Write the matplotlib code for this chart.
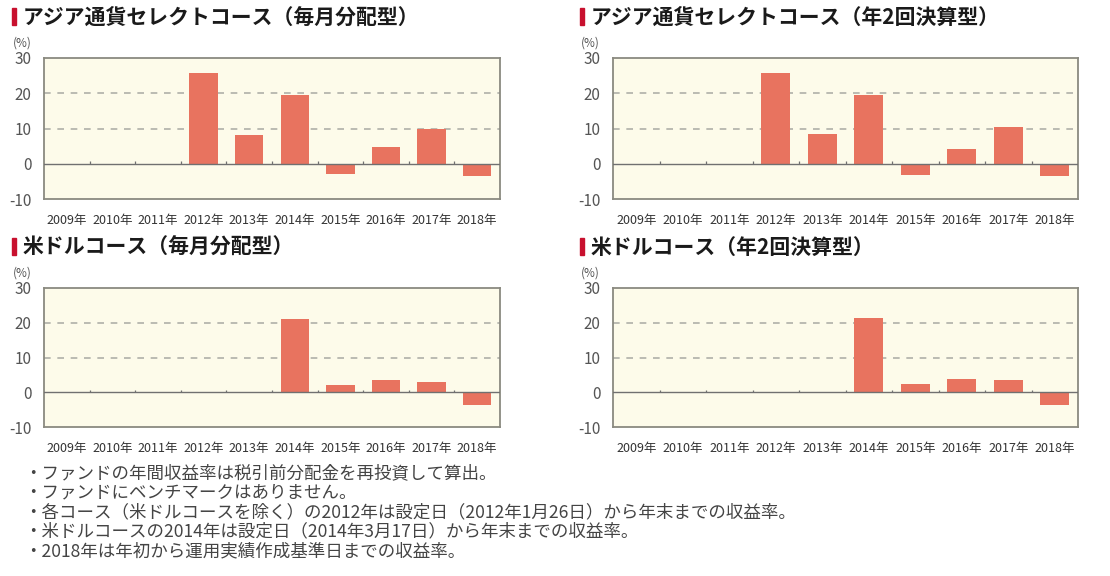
import numpy as np
import matplotlib
matplotlib.use('Agg')
import matplotlib.pyplot as plt
from matplotlib.patches import Rectangle

plt.rcParams['font.family'] = ['Noto Sans CJK JP', 'DejaVu Sans']

# data
years = ['2009年', '2010年', '2011年', '2012年', '2013年', '2014年', '2015年', '2016年', '2017年', '2018年']
asia_monthly = [np.nan, np.nan, np.nan, 25.8, 8.1, 19.6, -3.0, 4.7, 9.8, -3.6]
asia_semi = [np.nan, np.nan, np.nan, 25.8, 8.5, 19.6, -3.3, 4.3, 10.3, -3.6]
usd_monthly = [np.nan, np.nan, np.nan, np.nan, np.nan, 21.0, 2.0, 3.4, 3.0, -3.7]
usd_semi = [np.nan, np.nan, np.nan, np.nan, np.nan, 21.4, 2.5, 3.8, 3.4, -3.7]
titles = ['アジア通貨セレクトコース（毎月分配型）', 'アジア通貨セレクトコース（年2回決算型）',
          '米ドルコース（毎月分配型）', '米ドルコース（年2回決算型）']
yticks = [-10, 0, 10, 20, 30]
notes = [
    '・ファンドの年間収益率は税引前分配金を再投資して算出。',
    '・ファンドにベンチマークはありません。',
    '・各コース（米ドルコースを除く）の2012年は設定日（2012年1月26日）から年末までの収益率。',
    '・米ドルコースの2014年は設定日（2014年3月17日）から年末までの収益率。',
    '・2018年は年初から運用実績作成基準日までの収益率。',
]

W, H = 1110, 576
BAR = '#e8735f'
BG = '#fdfbea'
FRAME = '#8a8a80'

fig = plt.figure(figsize=(W / 100, H / 100), dpi=100)
fig.patch.set_facecolor('white')


def px_axes(left, top, right, bottom):
    return fig.add_axes([left / W, 1 - bottom / H, (right - left) / W, (bottom - top) / H])


# (left, top, right, bottom) in pixels, title anchor x/y
panels = [
    ((44, 58, 500, 199), 12, 17, asia_monthly),
    ((613, 58, 1078, 199), 580, 17, asia_semi),
    ((44, 288, 500, 427), 12, 247, usd_monthly),
    ((613, 288, 1078, 427), 580, 247, usd_semi),
]

x = np.arange(len(years))
for (box, tx, ty, vals), title in zip(panels, titles):
    ax = px_axes(*box)
    ax.set_facecolor(BG)
    ax.set_xlim(-0.5, len(years) - 0.5)
    ax.set_ylim(-10, 30)
    for v in (10, 20):
        ax.axhline(v, color='#b0b0a8', lw=1.2, ls=(0, (4, 4)), zorder=1)
    ax.axhline(0, color='#707070', lw=1.0, zorder=3)
    ax.bar(x, np.nan_to_num(vals), width=0.62, color=BAR, zorder=2)
    # small tick marks at category borders on the zero line
    ax.vlines(x[:-1] + 0.5, 0, 0.7, color='#707070', lw=0.9, zorder=3)
    for s in ax.spines.values():
        s.set_color(FRAME)
        s.set_linewidth(1.3)
    ax.set_yticks(yticks)
    ax.set_yticklabels([str(t) for t in yticks], fontsize=11, color='#555555')
    ax.set_xticks(x)
    ax.set_xticklabels(years, fontsize=9, color='#333333')
    ax.tick_params(length=0, axis='both')
    ax.tick_params(axis='x', pad=11)
    ax.tick_params(axis='y', pad=9)
    # title with red marker
    fig.patches.append(Rectangle((tx / W, 1 - (ty + 8) / H), 4 / W, 17 / H,
                                 transform=fig.transFigure, color='#c8102e'))
    fig.text((tx + 11) / W, 1 - ty / H, title, fontsize=15, fontweight='bold', color='#1a1a1a',
             va='center', ha='left')
    fig.text((tx + 1) / W, 1 - (ty + 26) / H, '(%)', fontsize=8.5, color='#555555',
             va='center', ha='left')

for i, line in enumerate(notes):
    fig.text(24 / W, 1 - (473 + i * 19.5) / H, line, fontsize=12.6, color='#444444',
             va='center', ha='left')

fig.savefig('out.png', dpi=100)
